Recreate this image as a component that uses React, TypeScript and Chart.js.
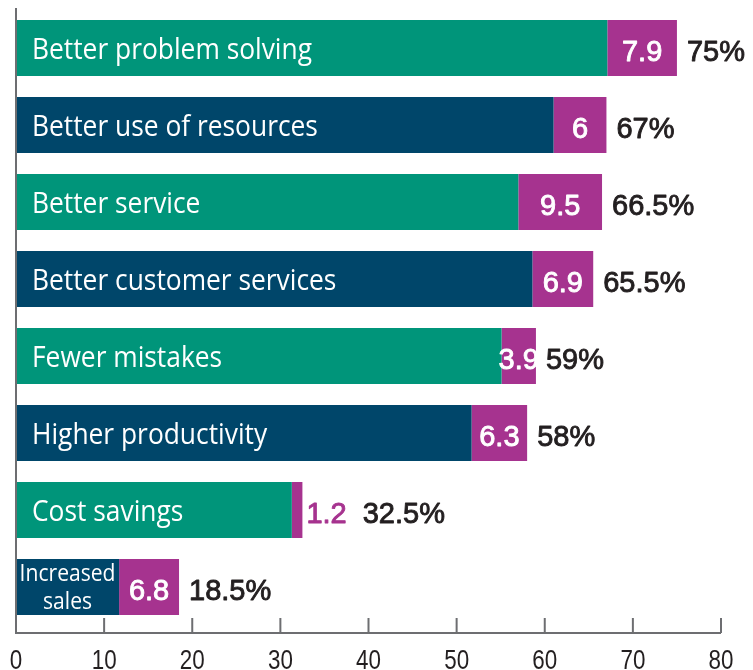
import React, { useEffect, useRef } from "react";
import { Chart, registerables } from "chart.js";

Chart.register(...registerables);

const categories = [
  "Better problem solving",
  "Better use of resources",
  "Better service",
  "Better customer services",
  "Fewer mistakes",
  "Higher productivity",
  "Cost savings",
  "Increased sales",
];
const totals = [75, 67, 66.5, 65.5, 59, 58, 32.5, 18.5];
const increments = [7.9, 6, 9.5, 6.9, 3.9, 6.3, 1.2, 6.8];
const xMin = 0;
const xMax = 80;
const xStep = 10;

const TEAL = "#00957A";
const NAVY = "#00466A";
const PURPLE = "#A6338F";
const DARK = "#231F20";
const AXIS = "#6D6E71";

const CAT_FONT = "30px 'Open Sans'";
const CAT_FONT_SMALL = "24px 'Open Sans'";
const NUM_FONT = "29px 'Liberation Sans'";
const TICK_FONT = "28px 'Liberation Sans'";

const bases = totals.map((t, i) => +(t - increments[i]).toFixed(2));

const drawScaled = (ctx: CanvasRenderingContext2D, text: string, x: number, y: number, sx: number) => {
  ctx.save();
  ctx.translate(x, y);
  ctx.scale(sx, 1);
  ctx.fillText(text, 0, 0);
  ctx.restore();
};

const drawHeavy = (ctx: CanvasRenderingContext2D, text: string, x: number, y: number, color: string) => {
  ctx.fillStyle = color;
  ctx.strokeStyle = color;
  ctx.lineWidth = 0.9;
  ctx.lineJoin = "round";
  ctx.fillText(text, x, y);
  ctx.strokeText(text, x, y);
};

const overlayPlugin = {
  id: "overlay",
  afterDatasetsDraw(chart: any) {
    const ctx: CanvasRenderingContext2D = chart.ctx;
    const meta0 = chart.getDatasetMeta(0);
    const meta1 = chart.getDatasetMeta(1);
    ctx.save();
    ctx.font = CAT_FONT;
    const sx = 280 / ctx.measureText(categories[0]).width;
    categories.forEach((cat, i) => {
      const b0 = meta0.data[i];
      const b1 = meta1.data[i];
      const yc = b0.y;
      const start = b0.base;
      const baseEnd = b0.x;
      const end = b1.x;
      // category label
      ctx.fillStyle = "#FFFFFF";
      ctx.textBaseline = "alphabetic";
      ctx.font = CAT_FONT;
      const w = ctx.measureText(cat).width * sx;
      if (w + 32 <= baseEnd - start) {
        ctx.textAlign = "left";
        drawScaled(ctx, cat, start + 16, yc + 10.5, sx);
      } else {
        ctx.font = CAT_FONT_SMALL;
        ctx.textAlign = "center";
        const words = cat.split(" ");
        const cx = (start + baseEnd) / 2;
        drawScaled(ctx, words[0], cx, yc - 6, sx);
        drawScaled(ctx, words.slice(1).join(" "), cx, yc + 22, sx);
      }
      // increment label
      ctx.font = NUM_FONT;
      const incText = String(increments[i]);
      const incW = ctx.measureText(incText).width;
      let after = end;
      if (end - baseEnd >= 20) {
        ctx.textAlign = "center";
        drawHeavy(ctx, incText, (baseEnd + end) / 2, yc + 13, "#FFFFFF");
      } else {
        ctx.textAlign = "left";
        drawHeavy(ctx, incText, end + 4, yc + 13, PURPLE);
        after = end + 4 + incW + 6;
      }
      // total label
      ctx.textAlign = "left";
      drawHeavy(ctx, String(totals[i]) + "%", after + 10, yc + 13, DARK);
    });
    ctx.restore();
  },
  afterDraw(chart: any) {
    const ctx: CanvasRenderingContext2D = chart.ctx;
    const xs = chart.scales.x;
    const area = chart.chartArea;
    const axisY = area.bottom + 7.5;
    const left = xs.getPixelForValue(xMin);
    const right = xs.getPixelForValue(xMax);
    ctx.save();
    ctx.strokeStyle = AXIS;
    ctx.lineWidth = 2;
    ctx.beginPath();
    ctx.moveTo(left, 8);
    ctx.lineTo(left, axisY);
    ctx.lineTo(right, axisY);
    ctx.stroke();
    ctx.font = TICK_FONT;
    ctx.fillStyle = DARK;
    ctx.textAlign = "center";
    ctx.textBaseline = "alphabetic";
    xs.ticks.forEach((t: any) => {
      const px = xs.getPixelForValue(t.value);
      if (t.value !== xMin) {
        ctx.beginPath();
        ctx.moveTo(px, axisY);
        ctx.lineTo(px, axisY - 15);
        ctx.stroke();
      }
      drawScaled(ctx, String(t.value), px, axisY + 36, 0.8);
    });
    ctx.restore();
  },
};

export default function App() {
  const ref = useRef<HTMLCanvasElement | null>(null);
  useEffect(() => {
    if (!ref.current) return;
    const chart = new Chart(ref.current, {
      type: "bar",
      data: {
        labels: categories,
        datasets: [
          {
            data: bases,
            backgroundColor: categories.map((_, i) => (i % 2 === 0 ? TEAL : NAVY)),
            borderWidth: 0,
            barPercentage: 56 / 77,
            categoryPercentage: 1,
          },
          {
            data: increments,
            backgroundColor: PURPLE,
            borderWidth: 0,
            barPercentage: 56 / 77,
            categoryPercentage: 1,
          },
        ],
      },
      options: {
        indexAxis: "y",
        responsive: false,
        animation: false,
        layout: { padding: { left: 16, right: 32, top: 9.5, bottom: 44.5 } },
        plugins: { legend: { display: false }, tooltip: { enabled: false } },
        scales: {
          x: {
            stacked: true,
            display: false,
            min: xMin,
            max: xMax,
            ticks: { stepSize: xStep },
          },
          y: { stacked: true, display: false },
        },
      },
      plugins: [overlayPlugin],
    });
    return () => chart.destroy();
  }, []);
  return (
    <div style={{ position: "absolute", left: 0, top: 0, width: 753, height: 670, background: "#fff" }}>
      <canvas ref={ref} width={753} height={670} style={{ display: "block" }} />
    </div>
  );
}
